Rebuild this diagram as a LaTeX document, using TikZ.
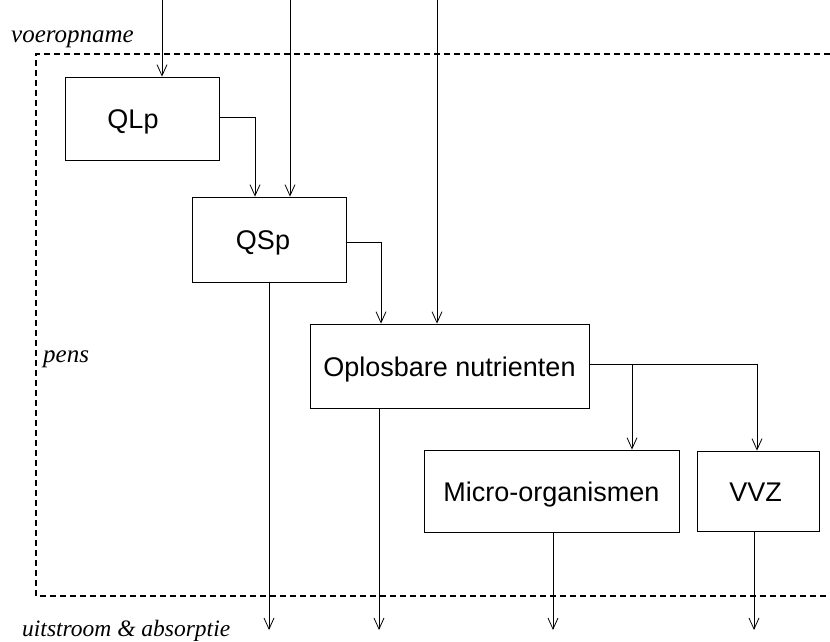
\documentclass[tikz,border=0pt]{standalone}
\usepackage{fontspec}
\setmainfont{Liberation Serif}
\newfontfamily\arialfont{Liberation Sans}
\usetikzlibrary{arrows.meta}
\tikzset{
  box/.style={draw, rectangle, line width=0.8pt, inner sep=0pt, text height=20pt, text depth=0pt, font=\arialfont\fontsize{27}{31}\selectfont},
  arr/.style={line width=0.8pt, -{Straight Barb[length=11pt,width=10pt,line width=0.8pt]}},
  link/.style={line width=0.8pt},
  pensbox/.style={line width=1.1pt, dash pattern=on 6pt off 4pt},
  lbl/.style={font=\itshape\fontsize{25}{30}\selectfont, inner sep=0pt, anchor=base west}
}
\begin{document}
\begin{tikzpicture}[x=1pt,y=-1pt]
\useasboundingbox (0,0) rectangle (830,642);
% dashed boundary
\draw[pensbox] (830,54) -- (36,54) -- (36,596) -- (830,596);
% labels
\node[lbl] (voer) at (11,43) {voeropname};
\node[lbl] (pens) at (43,362) {pens};
\node[lbl, font=\itshape\fontsize{23.5}{28}\selectfont] (uit) at (22,636) {uitstroom \& absorptie};
% boxes
\node[box, minimum width=154pt, minimum height=83pt] (QLp) at (142,118.5) {QLp\kern18pt};
\node[box, minimum width=154pt, minimum height=85pt] (QSp) at (269,239.5) {QSp\kern12pt};
\node[box, minimum width=279pt, minimum height=84pt] (Opl) at (449.5,366) {Oplosbare nutrienten};
\node[box, minimum width=255pt, minimum height=82pt] (Mic) at (551.5,491) {Micro-organismen};
\node[box, minimum width=122pt, minimum height=80pt] (VVZ) at (758,491) {VVZ\kern5pt};
% inputs
\coordinate (in1) at (162,0);
\coordinate (in2) at (290,0);
\coordinate (in3) at (437,0);
\draw[arr] (in1) -- (in1 |- QLp.north);
\draw[arr] (in2) -- (in2 |- QSp.north);
\draw[arr] (in3) -- (in3 |- Opl.north);
% internal flows
\coordinate (j1) at (255,117);
\coordinate (j2) at (381,242);
\draw[arr] (QLp.east |- j1) -| (j1 |- QSp.north);
\draw[arr] (QSp.east |- j2) -| (j2 |- Opl.north);
\coordinate (b1) at (632,364);
\coordinate (b2) at (757,364);
\draw[link] (Opl.east |- b1) -- (b2);
\draw[arr] (b1) -- (b1 |- Mic.north);
\draw[arr] (b2) -- (b2 |- VVZ.north);
% outputs
\coordinate (o1) at (269,630);
\coordinate (o2) at (379,630);
\coordinate (o3) at (553,630);
\coordinate (o4) at (754,630);
\draw[arr] (QSp.south) -- (o1);
\draw[arr] (o2 |- Opl.south) -- (o2);
\draw[arr] (o3 |- Mic.south) -- (o3);
\draw[arr] (o4 |- VVZ.south) -- (o4);
\end{tikzpicture}
\end{document}
